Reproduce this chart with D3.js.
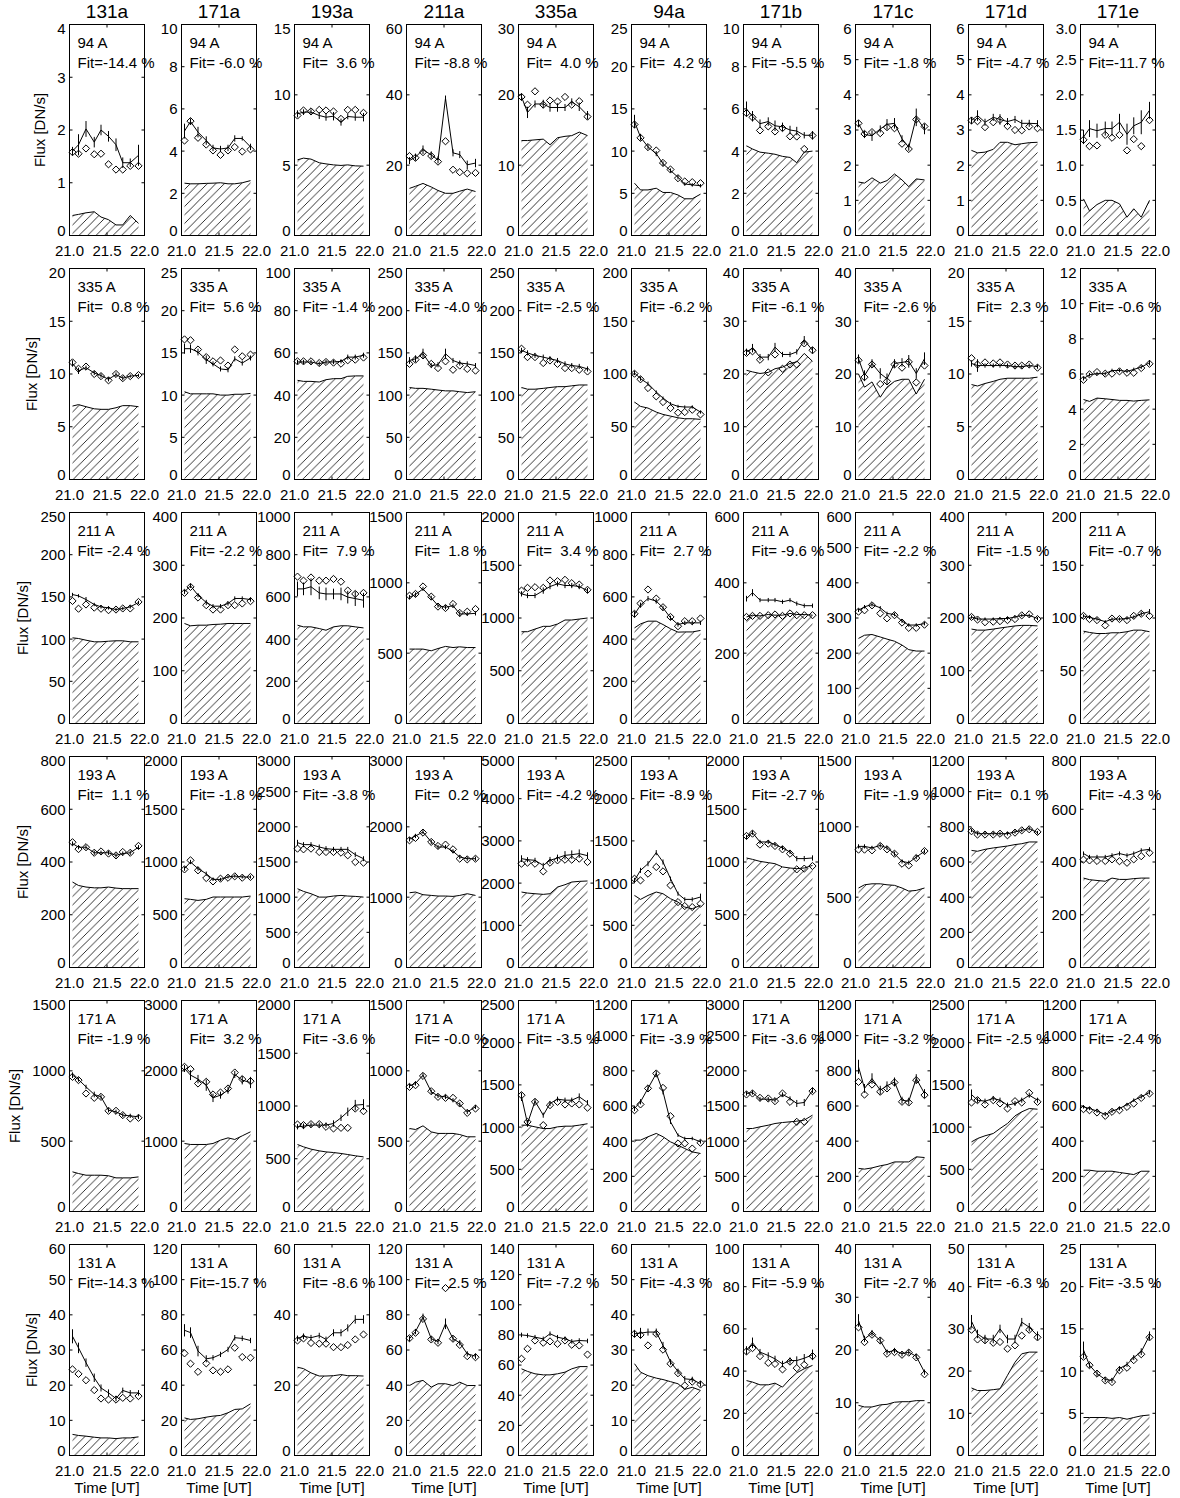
<!DOCTYPE html>
<html><head><meta charset="utf-8">
<script src="https://cdn.jsdelivr.net/npm/d3@7/dist/d3.min.js"></script>
<style>
body{margin:0;background:#fff}
text{font-family:"Liberation Sans",Arial,sans-serif;fill:#000}
</style>
</head><body>
<svg id="chart" width="1180" height="1498"></svg>
<script>
// ---------------- data ----------------
const times = [21.04, 21.12, 21.22, 21.33, 21.42, 21.52, 21.62, 21.71, 21.81, 21.92];
const xTicks = [21.0, 21.5, 22.0];
const columns = ["131a","171a","193a","211a","335a","94a","171b","171c","171d","171e"];
const bands = ["94 A","335 A","211 A","193 A","171 A","131 A"];

const yMax = [
  [4, 10, 15, 60, 30, 25, 10, 6, 6, 3],
  [20, 25, 100, 250, 250, 200, 40, 40, 20, 12],
  [250, 400, 1000, 1500, 2000, 1000, 600, 600, 400, 200],
  [800, 2000, 3000, 3000, 5000, 2500, 2000, 1500, 1200, 800],
  [1500, 3000, 2000, 1500, 2500, 1200, 3000, 1200, 2500, 1200],
  [60, 120, 60, 120, 140, 60, 100, 40, 50, 25]
];
const yStep = [
  [1, 2, 5, 20, 10, 5, 2, 1, 1, 0.5],
  [5, 5, 20, 50, 50, 50, 10, 10, 5, 2],
  [50, 100, 200, 500, 500, 200, 200, 100, 100, 50],
  [200, 500, 500, 1000, 1000, 500, 500, 500, 200, 200],
  [500, 1000, 500, 500, 500, 200, 500, 200, 500, 200],
  [10, 20, 20, 20, 20, 10, 20, 10, 10, 5]
];
const fitLabels = [
  ["-14.4","-6.0","3.6","-8.8","4.0","4.2","-5.5","-1.8","-4.7","-11.7"],
  ["0.8","5.6","-1.4","-4.0","-2.5","-6.2","-6.1","-2.6","2.3","-0.6"],
  ["-2.4","-2.2","7.9","1.8","3.4","2.7","-9.6","-2.2","-1.5","-0.7"],
  ["1.1","-1.8","-3.8","0.2","-4.2","-8.9","-2.7","-1.9","0.1","-4.3"],
  ["-1.9","3.2","-3.6","-0.0","-3.5","-3.9","-3.6","-3.2","-2.5","-2.4"],
  ["-14.3","-15.7","-8.6","2.5","-7.2","-4.3","-5.9","-2.7","-6.3","-3.5"]
];

// ---- 94 A ----
const obs94 = [
  [1.58,1.55,1.65,1.54,1.55,1.35,1.25,1.25,1.32,1.32],
  [4.5,5.42,4.63,4.31,4.03,3.82,4.03,4.19,3.98,4.08],
  [8.53,8.89,8.82,8.93,8.89,8.82,8.29,8.93,8.93,8.72],
  [22.6,22.1,23.7,22.6,21.0,26.8,18.7,18.0,17.7,17.8],
  [19.7,18.6,20.5,18.6,19.2,19.05,19.7,18.6,19.1,16.9],
  [13.15,11.57,10.47,10.07,8.6,7.82,6.79,6.4,6.32,6.2],
  [5.8,5.6,4.98,5.17,4.93,5.09,4.7,4.69,4.1,4.74],
  [3.19,2.89,2.94,2.91,3.08,3.05,2.61,2.46,3.3,3.1],
  [3.27,3.25,3.08,3.22,3.29,3.11,3.0,2.99,3.1,3.05],
  [1.36,1.27,1.28,1.43,1.39,1.43,1.21,1.37,1.27,1.64]
];
const model94 = [
  [1.6,1.72,2.02,1.77,2.0,1.88,1.72,1.38,1.38,1.52],
  [4.95,5.4,4.9,4.5,4.15,4.1,4.15,4.6,4.6,4.2],
  [8.65,8.77,8.77,8.53,8.41,8.48,8.06,8.46,8.41,8.41],
  [21.3,22.3,24.4,22.9,21.5,39.0,23.5,23.0,20.1,20.6],
  [19.7,17.5,18.7,18.7,18.2,18.2,18.2,19.0,18.3,17.1],
  [13.5,11.65,10.5,9.7,8.5,7.7,6.9,6.1,6.0,5.9],
  [6.0,5.65,5.3,5.4,5.2,5.15,5.0,4.95,4.75,4.75],
  [3.18,2.87,2.84,3.03,3.16,3.19,2.75,2.51,3.36,3.03],
  [3.27,3.41,3.22,3.36,3.3,3.24,3.3,3.19,3.19,3.18],
  [1.4,1.52,1.49,1.52,1.52,1.61,1.44,1.56,1.61,1.78]
];
const err94 = [
  [0.08,0.2,0.15,0.1,0.1,0.1,0.12,0.1,0.08,0.2],
  [0.35,0.15,0.25,0.2,0.15,0.15,0.15,0.15,0.1,0.15],
  [0.25,0.2,0.2,0.25,0.25,0.3,0.25,0.2,0.25,0.3],
  [1.0,1.0,1.2,1.0,1.0,0.8,1.0,1.0,1.2,1.2],
  [0.5,0.8,0.5,0.6,0.6,0.6,0.5,0.5,0.6,0.6],
  [0.8,0.4,0.3,0.3,0.3,0.25,0.25,0.2,0.2,0.2],
  [0.35,0.25,0.2,0.2,0.25,0.2,0.2,0.2,0.15,0.2],
  [0.1,0.1,0.15,0.1,0.15,0.15,0.1,0.1,0.25,0.15],
  [0.1,0.15,0.1,0.1,0.15,0.1,0.1,0.1,0.1,0.1],
  [0.1,0.12,0.1,0.1,0.1,0.12,0.15,0.12,0.17,0.12]
];
const bg94 = [
  [0.38,0.4,0.43,0.45,0.35,0.3,0.2,0.2,0.38,0.23],
  [2.48,2.45,2.45,2.47,2.48,2.5,2.45,2.45,2.5,2.6],
  [5.38,5.5,5.43,5.17,5.09,5.02,4.98,5.02,4.95,4.93],
  [13.4,14.0,14.8,13.8,12.8,12.0,12.0,12.6,13.2,12.5],
  [13.5,13.5,13.6,13.7,12.9,13.9,14.1,14.2,14.7,14.2],
  [6.2,5.4,5.4,5.6,5.1,5.1,4.8,4.35,4.35,4.9],
  [4.25,4.1,3.95,3.9,3.85,3.75,3.7,3.45,3.95,4.0],
  [1.52,1.49,1.64,1.49,1.56,1.75,1.58,1.39,1.61,1.58],
  [2.42,2.35,2.37,2.45,2.65,2.65,2.58,2.61,2.64,2.65],
  [0.52,0.35,0.44,0.5,0.5,0.45,0.26,0.38,0.26,0.5]
];

// ---- 335 A ----
const obs335 = [
  [11.1,10.5,10.7,10.0,9.8,9.4,10.0,9.6,9.8,9.9],
  [16.6,16.5,15.4,14.5,14.0,14.1,13.5,15.4,14.6,14.8],
  [56,56,56,55.2,55.7,55.4,54.9,56.5,56.8,57.8],
  [137,142,147,137,132,140,130,135,131,129],
  [155,145,145,138,141,137,132,132,130,128],
  [100.3,95,86.7,78.8,73.4,67.7,63.3,63.9,66.1,61.7],
  [24.0,24.3,22.7,20.3,23.7,21.0,21.8,21.8,25.8,24.5],
  [22.6,19.4,21.8,18.1,18.6,21.8,21.2,22.3,18.4,21.6],
  [11.5,10.9,11.1,11.0,11.1,10.9,10.8,10.8,10.9,10.6],
  [5.67,5.98,6.11,6.02,6.02,6.15,6.07,6.07,6.34,6.58]
];
const model335 = [
  [11.0,10.3,10.6,10.1,9.85,9.5,9.95,9.6,9.8,9.87],
  [15.5,15.5,15.1,14.2,13.7,13.1,13.0,14.3,13.8,14.4],
  [55.7,55.7,55.7,54.9,55.7,55.7,56,58,58,58.9],
  [141,143,149,135,136,149,141,138,137,135],
  [153,150,147,145,143,141,137,135,134,131],
  [101,95.6,90.8,82.9,77.2,71.8,69.3,68.7,68.7,63.9],
  [24.2,24.9,23.2,23.2,25.1,23.7,23.7,24.2,26.4,24.5],
  [22.9,19.7,22.0,20.1,19.1,22.0,22.2,22.4,20.1,22.9],
  [11.0,10.8,10.8,10.8,10.8,10.8,10.7,10.7,10.8,10.7],
  [5.73,5.96,6.02,6.02,6.2,6.2,6.15,6.26,6.39,6.64]
];
const err335 = [
  [0.3,0.3,0.2,0.2,0.2,0.2,0.2,0.2,0.15,0.15],
  [0.6,0.5,0.4,0.5,0.3,0.3,0.3,0.3,0.3,0.3],
  [1,1,1,1,1,1,1,1.2,1.2,1.2],
  [4,4,6,3,3,6,3,3,3,3],
  [3,3,3,3,3,3,3,3,3,3],
  [2,2,2,1.5,1.5,1.5,1.5,1.5,1.5,1.5],
  [0.6,0.8,0.6,0.6,0.8,0.5,0.5,0.5,0.8,0.6],
  [0.8,1.0,0.8,1.0,1.0,0.8,0.8,1.2,1.0,1.2],
  [0.3,0.6,0.2,0.2,0.2,0.2,0.2,0.2,0.2,0.2],
  [0.1,0.1,0.1,0.1,0.1,0.1,0.1,0.1,0.1,0.15]
];
const bg335 = [
  [6.96,7.1,6.9,6.7,6.65,6.65,6.8,7.0,7.0,6.9],
  [10.4,10.15,10.15,10.15,10.15,10.0,10.0,10.1,10.1,10.2],
  [47,46.5,46.5,46.2,47.3,47.8,47.8,48.9,49.1,49.1],
  [109,108,108,107,106,105,105,104,103,104],
  [109,107,107,108,109,110,110,111,112,112],
  [73.4,69.3,67.7,63.9,61.7,60.1,58.5,57.6,57.6,57],
  [20.7,20.4,20.1,20.3,21.0,21.3,22.0,22.3,23.9,22.4],
  [20.0,17.5,18.5,15.6,17.5,18.6,19.0,19.0,16.2,19.0],
  [9.0,8.86,9.1,9.3,9.5,9.6,9.6,9.6,9.6,9.7],
  [4.55,4.44,4.63,4.59,4.55,4.5,4.5,4.46,4.5,4.53]
];

// ---- 211 A ----
const obs211 = [
  [145.2,136,141,137.3,136,134.3,135,136.3,136.3,144],
  [247.7,259,238.8,224.3,216,216,224.3,224.3,227.5,231.9],
  [696,677,692,677,677,685,672,630,614,619],
  [909,921,974,902,831,821,850,786,795,814],
  [1260,1286,1292,1286,1356,1349,1362,1330,1317,1267],
  [520,569,635,592,551,505,461,485,485,498],
  [303,306,306,308,310,306,313,308,308,308],
  [318,322,336,313,299,308,287,272,272,281],
  [202,197,192,193,194,196,198,205,207,198],
  [102,99,98,93,99.5,99,98,102,104,102]
];
const model211 = [
  [152.8,151.2,146.9,141,138.2,137,135,136.3,138.2,143.4],
  [249.6,261,243.3,229.4,222.4,222.4,227.5,237,237,235],
  [638,638,648,619,614,614,614,599,592,584],
  [898,917,957,893,838,826,838,779,779,783],
  [1229,1213,1213,1260,1298,1324,1308,1308,1298,1260],
  [517,561,592,580,548,501,469,477,477,477],
  [355,372,351,351,351,346,351,341,335,335],
  [322,332,338,329,313,310,291,280,280,284],
  [202,198,198,198,199,199,202,205,205,199],
  [102,100.5,99,96.5,99,99,99.5,101,104,106]
];
const err211 = [
  [2,2,3,2,2,2,2,2,2,2],
  [4,4,4,5,4,4,4,4,4,4],
  [35,30,40,30,30,25,30,30,35,35],
  [15,15,15,15,15,15,15,20,15,15],
  [25,25,25,30,25,25,25,25,25,25],
  [15,12,12,12,10,10,10,10,10,10],
  [8,10,6,6,6,6,6,6,6,6],
  [5,5,5,5,5,5,5,5,5,5],
  [3,3,3,3,3,3,3,3,3,3],
  [1.5,1.5,1.5,1.5,1.5,1.5,1.5,1.5,2,2.5]
];
const bg211 = [
  [101.5,100.7,98.7,96.8,96.8,97.5,98,98,96.8,96.8],
  [189.6,185.2,186.4,186.4,187.7,188.3,189.6,189.6,189.6,189.6],
  [466,458,458,450,442,458,463,463,458,453],
  [529,529,529,517,533,548,540,545,540,540],
  [870,870,895,921,921,943,981,981,990,1000],
  [453,472,485,485,469,449,433,434,434,441],
  [303,308,306,310,308,308,313,310,310,308],
  [242,251,253,246,240,234,223,210,206,206],
  [179,177,177,179,181,183,185,186,186,185],
  [87.5,86.3,85.3,85.3,86,86,87,88.5,88.5,87]
];

// ---- 193 A ----
const obs193 = [
  [475,449,456,435,440,432,425,438,435,461],
  [930,1016,921,848,816,842,851,864,851,858],
  [1690,1680,1690,1642,1642,1642,1633,1595,1500,1490],
  [1808,1842,1918,1785,1728,1747,1680,1547,1537,1547],
  [2460,2484,2460,2278,2484,2540,2555,2555,2579,2500],
  [1052,1032,1112,1191,1139,973,775,728,716,756],
  [1247,1269,1165,1174,1152,1120,1079,930,937,962],
  [838,838,833,864,840,809,738,726,778,828],
  [775,756,756,756,761,752,767,780,786,771],
  [409,406,404,404,410,403,397,410,422,435]
];
const model193 = [
  [470,456,456,435,435,435,425,432,435,456],
  [937,1000,937,889,835,835,858,867,858,858],
  [1775,1747,1747,1713,1690,1680,1680,1680,1604,1547],
  [1823,1870,1927,1785,1713,1713,1652,1571,1547,1547],
  [2579,2555,2540,2420,2540,2595,2658,2674,2698,2650],
  [1032,1151,1230,1361,1250,1052,874,807,807,835],
  [1237,1278,1190,1190,1165,1133,1095,1032,1032,1038],
  [861,861,850,868,850,809,754,745,785,826],
  [780,761,761,761,761,761,771,780,790,767],
  [432,419,419,419,425,432,425,432,444,448]
];
const err193 = [
  [8,8,8,8,8,8,8,8,8,8],
  [20,20,20,20,15,15,15,15,15,15],
  [40,35,35,35,35,35,35,35,35,35],
  [30,30,30,30,30,30,30,30,30,30],
  [80,60,60,60,80,80,100,100,100,80],
  [30,30,30,30,30,25,25,25,25,40],
  [20,20,20,20,20,20,20,25,25,25],
  [15,15,15,15,15,15,15,15,15,15],
  [10,10,10,10,10,10,10,10,10,10],
  [8,8,8,8,8,8,8,8,8,8]
];
const bg193 = [
  [324,311,305,302,302,305,301,299,299,299],
  [652,646,636,646,668,668,668,668,668,677],
  [1120,1082,1049,1001,1001,1016,1025,1016,1011,1001],
  [1063,1073,1035,1025,1016,1016,1011,1025,1049,1025],
  [1788,1764,1748,1733,1748,1906,1962,2025,2041,2050],
  [854,807,854,894,874,815,775,716,696,736],
  [1038,1025,1006,994,984,953,943,937,943,968],
  [565,588,595,595,588,584,565,543,548,565],
  [666,661,672,680,685,691,699,704,714,714],
  [339,333,330,327,339,334,334,337,339,339]
];

// ---- 171 A ----
const obs171 = [
  [957,934,839,808,815,716,716,685,661,666],
  [2057,2024,1820,1844,1664,1692,1749,1976,1882,1853],
  [825,819,828,828,803,787,793,793,976,951],
  [886,898,964,855,815,808,808,768,701,732],
  [1378,1062,1299,1023,1260,1299,1268,1280,1268,1230],
  [576,609,700,785,703,542,387,387,358,391],
  [1664,1678,1616,1607,1569,1678,1559,1275,1275,1711],
  [737,665,722,681,700,734,624,620,747,662],
  [1291,1319,1268,1319,1280,1220,1307,1291,1406,1299],
  [582,576,563,544,567,576,595,614,646,671]
];
const model171 = [
  [969,938,886,832,815,720,709,685,680,673],
  [2033,1939,1882,1796,1616,1654,1725,1948,1867,1834],
  [803,809,819,819,819,834,888,945,1008,1014],
  [893,910,969,851,822,815,791,761,708,744],
  [1359,1043,1307,1141,1280,1331,1319,1319,1359,1290],
  [586,624,700,785,681,510,434,415,415,396],
  [1678,1692,1597,1597,1583,1664,1607,1536,1550,1725],
  [823,700,756,690,715,737,633,627,756,671],
  [1386,1319,1307,1339,1319,1260,1280,1319,1378,1319],
  [595,586,571,552,571,586,608,633,652,677]
];
const err171 = [
  [20,15,15,20,15,15,15,15,15,15],
  [50,70,60,80,60,50,50,50,60,80],
  [25,25,25,25,25,30,30,40,50,50],
  [15,15,15,15,15,15,15,15,15,15],
  [50,40,30,30,30,30,30,30,40,30],
  [15,15,15,15,15,12,10,10,10,10],
  [30,30,30,30,30,30,30,50,50,40],
  [40,25,30,25,25,25,20,20,25,25],
  [60,30,30,30,30,30,30,30,30,30],
  [10,10,10,10,10,10,10,10,10,12]
];
const bg171 = [
  [282,270,258,258,258,254,239,239,239,246],
  [967,953,953,953,967,1014,1047,1024,1076,1133],
  [635,613,591,575,565,559,550,540,528,518],
  [590,583,609,566,555,555,555,547,531,531],
  [1023,1023,1003,983,983,1003,1011,1011,1023,1040],
  [406,406,425,444,425,396,377,358,339,330],
  [1180,1180,1204,1227,1251,1265,1275,1284,1299,1370],
  [245,241,248,260,267,282,282,282,311,307],
  [825,865,897,924,983,1043,1133,1181,1220,1212],
  [235,235,229,229,229,222,216,210,229,229]
];

// ---- 131 A ----
const obs131 = [
  [24.5,23.2,21.4,18.6,16.2,15.9,15.9,16.4,16.2,16.9],
  [58.1,52.2,47.6,52.4,48.4,47.6,49,61.3,56,55.6],
  [32.7,33.3,32,31.8,31.8,30.8,30.8,31.4,33,34.4],
  [66.7,69.8,77.7,66,64.1,95.2,66.4,62.9,56.5,55.9],
  [64.2,70.8,76.3,74.8,75.7,74.1,76.3,73.5,73,67],
  [34.6,34.3,31.3,34.6,30.1,26.1,23.4,19.9,21,20.2],
  [49.3,50.9,47.1,43.9,43.4,40.8,44.5,41.4,43,47.1],
  [24.3,21.5,22.9,21.8,19.3,19.6,19.1,19.5,18.6,15.4],
  [29.8,27.5,27.3,26.7,26.9,25.3,26.1,28.4,29.8,28.0],
  [11.7,10.7,9.7,8.9,8.7,10.1,10.4,11.3,12.0,14.0]
];
const model131 = [
  [33.9,30.6,26.4,22.1,19.2,17.8,16.2,18.5,17.8,17.8],
  [71.2,69.9,59.4,55,55.6,57.5,60.3,67,66.6,65.4],
  [33.3,33.9,33.5,34.1,33.0,34.9,34.9,36.3,38.7,38.7],
  [66.4,70.5,78.7,66.4,64.8,74.9,66.4,64.1,57.8,56.5],
  [80,79.6,78.5,77.4,80.8,78.5,77.4,75.7,76.3,76],
  [34.6,34.8,35.1,35.1,31.3,26.6,23.9,21.8,21.6,20.4],
  [49.8,53.4,49,47.4,45.8,43.4,45,45,46.1,47.7],
  [25.6,22.1,23.2,21.8,19.6,19.9,19.3,19.6,18.8,15.8],
  [31.8,28.8,27.6,27.6,30.0,27.6,27.6,31.6,30.4,28.4],
  [12.5,10.7,9.7,9.0,8.9,10.3,10.8,11.6,12.3,14.2]
];
const err131 = [
  [2,1.5,1.2,1.2,1,1,0.8,0.8,0.8,0.8],
  [3.5,3,3,2,1.5,1.5,1.5,1.5,1.5,1.5],
  [0.8,0.8,0.8,0.8,0.8,1,1,1,1.2,1.2],
  [1.5,1.5,2,1.5,1.5,3,1.5,1.5,1.5,1.5],
  [1.5,1.5,1.5,1.5,1.5,1.5,1.5,1.5,1.5,1.5],
  [1,1.5,1,1,1,0.8,0.8,0.8,0.8,0.8],
  [2,2.5,1.5,1.5,1.5,1.5,1.5,2,2,2.5],
  [1.2,0.6,0.6,0.6,0.5,0.5,0.5,0.5,0.5,0.5],
  [1.5,1,1,1,1,1,1,1,1,1],
  [1,0.3,0.3,0.3,0.3,0.3,0.3,0.3,0.4,0.5]
];
const bg131 = [
  [6.0,5.7,5.5,5.2,5.0,5.0,4.8,5.0,5.0,5.3],
  [21.4,20.5,20.9,21.8,22.4,22.8,24.3,26.2,26.5,29.4],
  [25.1,24.7,23.5,22.6,22.6,22.7,23.0,22.7,22.7,22.6],
  [39.8,41.7,42.7,38.9,40.8,40.8,39.8,41.7,39.8,39.8],
  [57.5,55.8,54.2,53.5,53.5,54.2,55.3,57.5,59,59],
  [26.1,23.7,22.7,22.0,21.6,21.0,20.4,18.8,19.4,18.5],
  [35.5,34.8,33.5,33.5,34.3,32.4,36.3,39.2,41.1,42.7],
  [9.5,9.2,9.2,9.6,9.7,10.1,10.2,10.2,10.4,10.4],
  [16.0,15.4,15.4,15.6,15.8,19.0,22.1,24.1,24.5,24.5],
  [4.5,4.5,4.5,4.5,4.4,4.5,4.3,4.5,4.7,4.8]
];

const observed = [obs94, obs335, obs211, obs193, obs171, obs131];
const modelled = [model94, model335, model211, model193, model171, model131];
const modelErr = [err94, err335, err211, err193, err171, err131];
const background = [bg94, bg335, bg211, bg193, bg171, bg131];

// ---------------- drawing ----------------
const svg = d3.select("#chart");
const W = 75, H = 211;
const FS = 15;

const defs = svg.append("defs");
const hs = 8.5;
defs.append("pattern")
  .attr("id", "hatch").attr("patternUnits", "userSpaceOnUse")
  .attr("width", hs).attr("height", hs)
  .append("path")
  .attr("d", `M0,${hs} L${hs},0 M${-hs/2},${hs/2} L${hs/2},${-hs/2} M${hs/2},${hs*1.5} L${hs*1.5},${hs/2}`)
  .attr("stroke", "#000").attr("stroke-width", 0.8).attr("fill", "none");

const diamond = r => `M0,${-r}L${r},0L0,${r}L${-r},0Z`;

for (let r = 0; r < 6; r++) {
  for (let c = 0; c < 10; c++) {
    const left = Math.round(69 + c * 112.33) + 0.5;
    const top = Math.round(24 + r * 244) + 0.5;
    const x = d3.scaleLinear().domain([21, 22]).range([left, left + W]);
    const y = d3.scaleLinear().domain([0, yMax[r][c]]).range([top + H, top]);
    const g = svg.append("g");

    const ob = observed[r][c], mo = modelled[r][c], er = modelErr[r][c], bg = background[r][c];

    // hatched background contribution
    g.append("path")
      .attr("d", d3.area().x((d, i) => x(times[i])).y0(y(0)).y1(d => y(d))(bg))
      .attr("fill", "url(#hatch)").attr("stroke", "none");
    g.append("path")
      .attr("d", d3.line().x((d, i) => x(times[i])).y(d => y(d))(bg))
      .attr("fill", "none").attr("stroke", "#000").attr("stroke-width", 1);

    // model line with error bars
    g.append("path")
      .attr("d", d3.line().x((d, i) => x(times[i])).y(d => y(d))(mo))
      .attr("fill", "none").attr("stroke", "#000").attr("stroke-width", 1);
    g.selectAll(".eb").data(mo).enter().append("line")
      .attr("x1", (d, i) => x(times[i])).attr("x2", (d, i) => x(times[i]))
      .attr("y1", (d, i) => y(d - er[i])).attr("y2", (d, i) => y(d + er[i]))
      .attr("stroke", "#000").attr("stroke-width", 1);

    // observed diamonds
    g.selectAll(".dm").data(ob).enter().append("path")
      .attr("d", diamond(3.6))
      .attr("transform", (d, i) => `translate(${x(times[i])},${y(d)})`)
      .attr("fill", "none").attr("stroke", "#000").attr("stroke-width", 1);

    // frame
    g.append("rect").attr("x", left).attr("y", top).attr("width", W).attr("height", H)
      .attr("fill", "none").attr("stroke", "#000").attr("stroke-width", 1);

    // y ticks
    const ym = yMax[r][c];
    const yt = d3.range(0, ym + yStep[r][c] / 2, yStep[r][c]);
    const fmt = yStep[r][c] < 1 ? d3.format(".1f") : d3.format("d");
    yt.forEach(v => {
      const yy = y(v);
      g.append("line").attr("x1", left).attr("x2", left + 3).attr("y1", yy).attr("y2", yy).attr("stroke", "#000");
      g.append("line").attr("x1", left + W - 3).attr("x2", left + W).attr("y1", yy).attr("y2", yy).attr("stroke", "#000");
    });
    // extreme labels are nudged inward, as in the reference
    const labs = g.selectAll(".yl").data(yt).enter().append("text")
      .attr("x", left - 4)
      .attr("y", d => y(d) + (d === 0 ? -4.5 : (Math.abs(d - ym) < 1e-9 ? 4 : 0)))
      .attr("dy", "0.36em")
      .attr("text-anchor", "end").attr("font-size", FS).text(d => fmt(d));

    // x ticks
    xTicks.forEach(v => {
      const xx = x(v);
      g.append("line").attr("x1", xx).attr("x2", xx).attr("y1", top + H).attr("y2", top + H - 3).attr("stroke", "#000");
      g.append("line").attr("x1", xx).attr("x2", xx).attr("y1", top).attr("y2", top + 3).attr("stroke", "#000");
    });
    g.selectAll(".xl").data(xTicks).enter().append("text")
      .attr("x", d => x(d)).attr("y", top + H + 20)
      .attr("text-anchor", "middle").attr("font-size", FS).text(d => d3.format(".1f")(d));

    // panel annotations
    g.append("text").attr("x", left + 8).attr("y", top + 23).attr("font-size", FS).text(bands[r]);
    g.append("text").attr("x", left + 8).attr("y", top + 43).attr("font-size", FS)
      .attr("xml:space", "preserve").style("white-space", "pre")
      .text("Fit=" + fitLabels[r][c].padStart(5, " ") + " %");

    if (r === 0) {
      svg.append("text").attr("x", left + W / 2).attr("y", 18).attr("text-anchor", "middle")
        .attr("font-size", 19).text(columns[c]);
    }
    if (r === 5) {
      svg.append("text").attr("x", left + W / 2).attr("y", top + H + 37).attr("text-anchor", "middle")
        .attr("font-size", FS).text("Time [UT]");
    }
    if (c === 0) {
      let maxW = 0;
      labs.each(function () { maxW = Math.max(maxW, this.getComputedTextLength()); });
      const lx = left - 4 - maxW - 12;
      const ly = top + H / 2;
      svg.append("text").attr("transform", `translate(${lx},${ly}) rotate(-90)`)
        .attr("text-anchor", "middle").attr("font-size", FS).text("Flux [DN/s]");
    }
  }
}
</script>
</body></html>
